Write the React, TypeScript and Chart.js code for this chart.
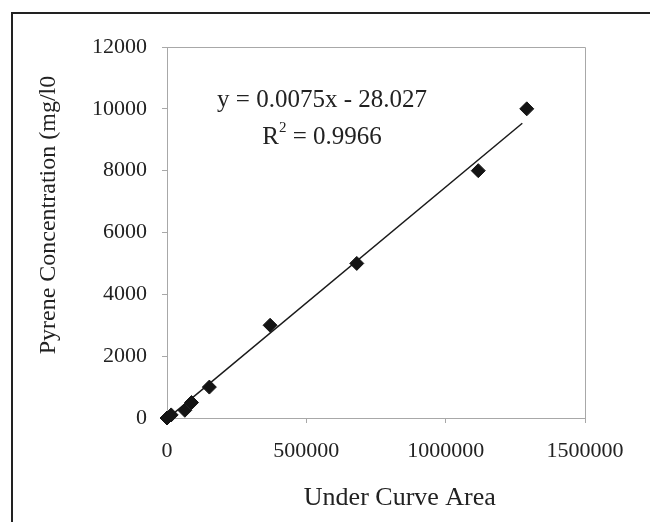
import { useEffect, useRef } from 'react';
import { Chart, registerables } from 'chart.js';

Chart.register(...registerables);

const FONT = '"Liberation Serif", "Times New Roman", serif';

// Data
const areaX = [0, 15000, 64000, 88000, 152000, 370000, 681000, 1117000, 1291000];
const concY = [0, 100, 250, 500, 1000, 3000, 5000, 8000, 10000];

// Trendline (from the printed equation)
const slope = 0.0075;
const intercept = -28.027;
const rSquared = '0.9966';
const trendX = [0, 1275000];

const xTicks = [0, 500000, 1000000, 1500000];
const yTicks = [0, 2000, 4000, 6000, 8000, 10000, 12000];

const xTitle = 'Under Curve Area';
const yTitle = 'Pyrene Concentration (mg/l0';

export default function App() {
  const ref = useRef<HTMLCanvasElement>(null);

  useEffect(() => {
    if (!ref.current) return;
    const overlay = {
      id: 'overlay',
      afterDraw(chart: any) {
        const ctx = chart.ctx as CanvasRenderingContext2D;
        const { left, top, right, bottom } = chart.chartArea;
        const w = right - left;
        const h = bottom - top;
        ctx.save();
        // outer border
        ctx.strokeStyle = '#222';
        ctx.lineWidth = 2;
        ctx.beginPath();
        ctx.moveTo(12, chart.height);
        ctx.lineTo(12, 13);
        ctx.lineTo(chart.width, 13);
        ctx.stroke();

        ctx.fillStyle = '#222';
        ctx.textAlign = 'center';
        ctx.textBaseline = 'middle';
        // x title
        ctx.font = `26px ${FONT}`;
        ctx.fillText(xTitle, left + w * 0.557, bottom + 80);
        // y title
        ctx.save();
        ctx.translate(49, top + h * 0.453);
        ctx.rotate(-Math.PI / 2);
        ctx.font = `24px ${FONT}`;
        ctx.fillText(yTitle, 0, 0);
        ctx.restore();
        // equation
        ctx.font = `25px ${FONT}`;
        const eq = `y = ${slope}x - ${Math.abs(intercept)}`;
        const cx = left + w * 0.371;
        ctx.fillText(eq, cx, top + 53);
        // R^2 line
        const p1 = 'R';
        const p3 = ` = ${rSquared}`;
        ctx.font = `25px ${FONT}`;
        const w1 = ctx.measureText(p1).width;
        const w3 = ctx.measureText(p3).width;
        ctx.font = `15px ${FONT}`;
        const w2 = ctx.measureText('2').width;
        const total = w1 + w2 + w3;
        const x0 = cx - total / 2;
        const yR = top + 90;
        ctx.textAlign = 'left';
        ctx.font = `25px ${FONT}`;
        ctx.fillText(p1, x0, yR);
        ctx.font = `15px ${FONT}`;
        ctx.fillText('2', x0 + w1, yR - 9);
        ctx.font = `25px ${FONT}`;
        ctx.fillText(p3, x0 + w1 + w2, yR);
        ctx.restore();
      },
      beforeDatasetsDraw(chart: any) {
        const ctx = chart.ctx as CanvasRenderingContext2D;
        const { left, top, right, bottom } = chart.chartArea;
        ctx.save();
        ctx.strokeStyle = '#a8a8a8';
        ctx.lineWidth = 1;
        ctx.beginPath();
        ctx.moveTo(left, top + 0.5);
        ctx.lineTo(right + 0.5, top + 0.5);
        ctx.lineTo(right + 0.5, bottom);
        ctx.stroke();
        ctx.restore();
      },
    };

    const chart = new Chart(ref.current, {
      type: 'scatter',
      data: {
        datasets: [
          {
            label: 'Pyrene',
            data: areaX.map((x, i) => ({ x, y: concY[i] })),
            pointStyle: 'rectRot',
            pointRadius: 7,
            backgroundColor: '#141414',
            borderColor: '#141414',
            borderWidth: 1,
            showLine: false,
            clip: false,
            order: 1,
          },
          {
            label: 'Trend',
            data: trendX.map((x) => ({ x, y: slope * x + intercept })),
            showLine: true,
            borderColor: '#1a1a1a',
            borderWidth: 1.5,
            pointRadius: 0,
            fill: false,
            clip: false,
            order: 2,
          },
        ],
      },
      options: {
        animation: false,
        responsive: false,
        maintainAspectRatio: false,
        layout: { padding: { left: 0, top: 47, right: 65, bottom: 0 } },
        plugins: { legend: { display: false }, tooltip: { enabled: false } },
        scales: {
          x: {
            type: 'linear',
            min: 0,
            max: 1500000,
            afterBuildTicks: (s: any) => {
              s.ticks = xTicks.map((v) => ({ value: v }));
            },
            ticks: {
              font: { family: FONT, size: 22 },
              color: '#222',
              padding: 15,
              maxRotation: 0,
              autoSkip: false,
              callback: (v: any) => String(v),
            },
            grid: { drawOnChartArea: false, drawTicks: true, tickLength: 5, color: '#a8a8a8' },
            border: { color: '#a8a8a8' },
            afterFit: (s: any) => {
              s.height = 104;
            },
          },
          y: {
            type: 'linear',
            min: 0,
            max: 12000,
            afterBuildTicks: (s: any) => {
              s.ticks = yTicks.map((v) => ({ value: v }));
            },
            ticks: {
              font: { family: FONT, size: 22 },
              color: '#222',
              padding: 15,
              autoSkip: false,
              callback: (v: any) => String(v),
            },
            grid: { drawOnChartArea: false, drawTicks: true, tickLength: 5, color: '#a8a8a8' },
            border: { color: '#a8a8a8' },
            afterFit: (s: any) => {
              s.width = 167;
            },
          },
        },
      },
      plugins: [overlay],
    } as any);
    return () => chart.destroy();
  }, []);

  return (
    <div style={{ position: 'fixed', left: 0, top: 0, width: 650, height: 522, background: '#fff' }}>
      <canvas ref={ref} width={650} height={522} style={{ width: 650, height: 522, display: 'block' }} />
    </div>
  );
}
